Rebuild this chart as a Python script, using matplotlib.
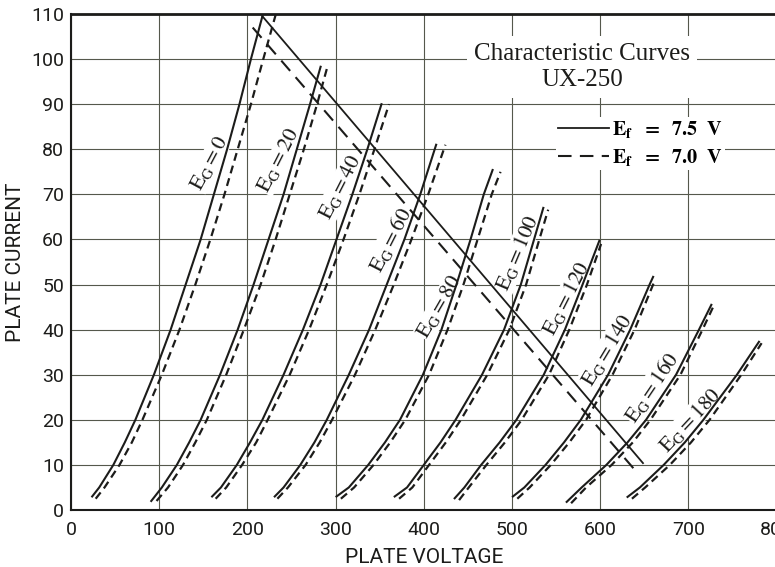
"""
Characteristic curves of the UX-250: plate current against plate voltage
for grid bias 0..180 V, filament at 7.5 V (solid) and 7.0 V (dashed).
"""

import matplotlib.pyplot as plt

# grid bias of each curve
grid_bias = [0, 20, 40, 60, 80, 100, 120, 140, 160, 180]

# (plate voltage, plate current), Ef = 7.5 V
eg0_75 = [(24, 3), (32, 5), (48, 10), (61, 15), (73, 20), (94, 30), (113, 40), (130, 50),
          (147, 60), (162, 70), (177, 80), (191, 90), (204, 100), (217, 109.5)]
eg20_75 = [(91, 2), (103, 5), (120, 10), (134, 15), (147, 20), (169, 30), (189, 40),
           (207, 50), (224, 60), (241, 70), (256, 80), (271, 90), (283, 98.3)]
eg40_75 = [(160, 3), (170, 5), (188, 10), (203, 15), (217, 20), (241, 30), (263, 40),
           (283, 50), (301, 60), (319, 70), (336, 80), (352, 90)]
eg60_75 = [(231, 3), (241, 5), (260, 10), (276, 15), (290, 20), (315, 30), (338, 40),
           (358, 50), (378, 60), (396, 70), (414, 81)]
eg80_75 = [(301, 3), (315, 5), (337, 10), (356, 15), (373, 20), (399, 30), (420, 40),
           (437, 50), (453, 60), (468, 70), (478, 75.4)]
eg100_75 = [(367, 3), (381, 5), (400, 10), (419, 15), (436, 20), (466, 30), (491, 40),
            (510, 50), (525, 60), (535.5, 67)]
eg120_75 = [(435, 2.6), (446, 5), (465, 10), (486, 15), (505, 20), (536, 30), (560, 40),
            (580, 50), (599, 59.7)]
eg140_75 = [(501, 3), (514, 5), (538, 10), (559, 15), (578, 20), (609, 30), (634, 40),
            (656, 50), (660, 51.7)]
eg160_75 = [(562, 1.8), (579, 5), (607, 10), (631, 15), (652, 20), (686, 30), (712, 40),
            (726, 45.5)]
eg180_75 = [(631, 2.9), (645, 5), (672, 10), (696, 15), (717, 20), (755, 30), (780, 37.3)]

# same, Ef = 7.0 V
eg0_70 = [(28, 2.5), (38, 5), (55, 10), (69, 15), (81, 20), (103, 30), (123, 40), (141, 50),
          (158, 60), (174, 70), (189, 80), (204, 90), (218, 100), (232, 109.8)]
eg20_70 = [(97, 2), (110, 5), (127, 10), (141, 15), (154, 20), (176, 30), (196, 40),
           (215, 50), (232, 60), (248, 70), (264, 80), (279, 90), (290, 97.8)]
eg40_70 = [(164, 2.5), (176, 5), (194, 10), (210, 15), (223, 20), (248, 30), (270, 40),
           (290, 50), (309, 60), (327, 70), (344, 80), (360.6, 90)]
eg60_70 = [(234, 2.5), (246, 5), (266, 10), (282, 15), (296, 20), (322, 30), (345, 40),
           (366, 50), (386, 60), (405, 70), (424.5, 81)]
eg80_70 = [(306, 2.5), (321, 5), (343, 10), (362, 15), (379, 20), (406, 30), (427, 40),
           (445, 50), (461, 60), (477, 70), (487, 75)]
eg100_70 = [(372, 2.5), (387, 5), (406, 10), (425, 15), (442, 20), (472, 30), (497, 40),
            (516, 50), (531, 60), (541, 66.6)]
eg120_70 = [(440, 2.2), (451, 5), (471, 10), (492, 15), (511, 20), (542, 30), (565, 40),
            (585, 50), (601, 59)]
eg140_70 = [(506, 2.5), (520, 5), (544, 10), (565, 15), (584, 20), (614, 30), (639, 40),
            (660, 50), (663, 51)]
eg160_70 = [(567, 1.5), (584, 5), (613, 10), (637, 15), (657, 20), (691, 30), (716, 40),
            (728, 45)]
eg180_70 = [(636, 2.5), (651, 5), (679, 10), (703, 15), (724, 20), (760, 30), (783, 37)]

# load lines
load_75 = [(217, 109.5), (648.5, 10.4)]
load_70 = [(206, 107), (641, 8.5)]

# where the E_G labels sit and how they are tilted
label_pos = [(157, 77), (235, 77.5), (305, 71.5), (362, 60), (418, 45),
             (506, 57), (562, 47), (608, 35.5), (659, 27.3), (702, 20)]
label_rot = [62, 63, 63, 63, 60, 67, 63, 59, 56, 47]

curves_75 = [eg0_75, eg20_75, eg40_75, eg60_75, eg80_75,
             eg100_75, eg120_75, eg140_75, eg160_75, eg180_75]
curves_70 = [eg0_70, eg20_70, eg40_70, eg60_70, eg80_70,
             eg100_70, eg120_70, eg140_70, eg160_70, eg180_70]

ink = '#1c1c1a'
gridc = '#55584c'

plt.rcParams['mathtext.fontset'] = 'stix'

fig = plt.figure(figsize=(7.75, 5.67), dpi=100)
ax = fig.add_axes([71 / 775, 57 / 567, 705.6 / 775, 496 / 567])

for pts in curves_75:
    v, i = zip(*pts)
    ax.plot(v, i, color=ink, lw=1.5, zorder=3, solid_joinstyle='round')
for pts in curves_70:
    v, i = zip(*pts)
    ax.plot(v, i, color=ink, lw=1.6, dashes=(3.6, 2.3), zorder=3)

v, i = zip(*load_75)
solid_line, = ax.plot(v, i, color=ink, lw=1.3, zorder=3)
v, i = zip(*load_70)
dashed_line, = ax.plot(v, i, color=ink, lw=1.5, dashes=(6.5, 4), zorder=3)

for eg, (x, y), rot in zip(grid_bias, label_pos, label_rot):
    ax.text(x, y, r'$\mathrm{E_G = %d}$' % eg, rotation=rot, fontsize=15.5,
            ha='center', va='center', color=ink, zorder=2,
            bbox=dict(facecolor='white', edgecolor='none', pad=0.5))

ax.text(0.724, 0.893, 'Characteristic Curves\nUX-250', transform=ax.transAxes,
        ha='center', va='center', fontsize=18, family='Liberation Serif',
        color=ink, linespacing=1.25, zorder=2,
        bbox=dict(facecolor='white', edgecolor='none', pad=5))

leg = ax.legend([solid_line, dashed_line],
                [r'$\mathbf{E_f\ \ =\ \ 7.5\ \ V}$', r'$\mathbf{E_f\ \ =\ \ 7.0\ \ V}$'],
                loc='upper left', bbox_to_anchor=(0.688, 0.792), fontsize=14.5,
                frameon=True, framealpha=1, edgecolor='none', facecolor='white',
                handlelength=2.5, handletextpad=0.15, labelspacing=0.35,
                borderpad=0.1, borderaxespad=0, fancybox=False)
leg.set_zorder(4)

ax.set_xlim(0, 800)
ax.set_ylim(0, 110)
ax.set_xticks(range(0, 801, 100))
ax.set_yticks(range(0, 111, 10))
ax.tick_params(length=0, labelsize=14, colors=ink)
ax.tick_params(axis='x', pad=8)
ax.tick_params(axis='y', pad=5)
for lab in ax.get_xticklabels() + ax.get_yticklabels():
    lab.set_family('Roboto')

ax.grid(True, color=gridc, lw=0.8)
ax.set_axisbelow(True)

ax.spines['right'].set_visible(False)
ax.spines['top'].set_linewidth(2)
ax.spines['left'].set_linewidth(1.5)
ax.spines['bottom'].set_linewidth(1.5)
for s in ax.spines.values():
    s.set_color(ink)

ax.set_xlabel('PLATE VOLTAGE', fontsize=15, family='Roboto', color=ink)
ax.set_ylabel('PLATE CURRENT', fontsize=15, family='Roboto', color=ink)
ax.xaxis.set_label_coords(0.5, -0.095)
ax.xaxis.label.set_va('center')
ax.yaxis.set_label_coords(-0.078, 0.5)
ax.yaxis.label.set_va('center')

fig.savefig('out.png', dpi=100)
